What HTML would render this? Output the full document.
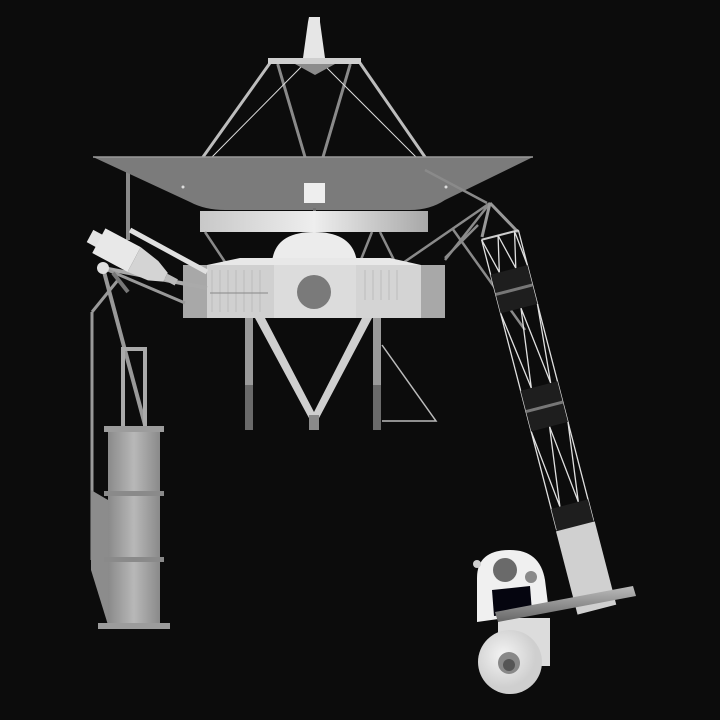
<!DOCTYPE html>
<html><head><style>html,body{margin:0;padding:0;background:#0c0c0c;}svg{display:block}</style></head>
<body>
<svg width="720" height="720" viewBox="0 0 720 720" xmlns="http://www.w3.org/2000/svg">
<defs>
<linearGradient id="bar" x1="0" x2="1"><stop offset="0" stop-color="#c8c8c8"/><stop offset="0.5" stop-color="#eee"/><stop offset="1" stop-color="#a8a8a8"/></linearGradient>
<linearGradient id="cyl" x1="0" x2="1"><stop offset="0" stop-color="#8a8a8a"/><stop offset="0.5" stop-color="#b8b8b8"/><stop offset="1" stop-color="#8a8a8a"/></linearGradient>
<linearGradient id="rod" x1="0" y1="0" x2="0" y2="1"><stop offset="0" stop-color="#bbb"/><stop offset="1" stop-color="#666"/></linearGradient>
<radialGradient id="disk" cx="0.4" cy="0.4"><stop offset="0" stop-color="#f4f4f4"/><stop offset="1" stop-color="#cfcfcf"/></radialGradient>
</defs>
<rect width="720" height="720" fill="#0c0c0c"/>

<!-- feed struts -->
<g stroke-linecap="round">
<line x1="270" y1="63" x2="203" y2="157" stroke="#bdbdbd" stroke-width="3"/>
<line x1="360" y1="63" x2="425" y2="157" stroke="#bdbdbd" stroke-width="3"/>
<line x1="278" y1="65" x2="305" y2="157" stroke="#8a8a8a" stroke-width="3"/>
<line x1="350" y1="65" x2="323" y2="157" stroke="#8a8a8a" stroke-width="3"/>
<line x1="305" y1="63" x2="212" y2="157" stroke="#ddd" stroke-width="1"/>
<line x1="322" y1="63" x2="416" y2="157" stroke="#ddd" stroke-width="1"/>
</g>
<polygon points="309,17 320,17 320,22 325,58 303,58 308,22" fill="#e6e6e6"/>
<rect x="268" y="58" width="93" height="6" fill="#cfcfcf"/>
<polygon points="295,64 335,64 315,75" fill="#8c8c8c"/>

<!-- left vertical strut from dish -->
<rect x="126" y="170" width="4" height="70" fill="#8a8a8a"/>

<!-- dish -->
<path d="M93,157 L533,157 L445,200 Q430,210 410,210 L225,210 Q205,210 190,202 Z" fill="#7b7b7b"/>
<line x1="93" y1="157" x2="533" y2="157" stroke="#9a9a9a" stroke-width="1.5"/>
<rect x="304" y="183" width="21" height="20" fill="#eeeeee"/>
<rect x="313" y="208" width="3" height="57" fill="#6e6e6e"/>
<circle cx="183" cy="187" r="1.5" fill="#ddd"/><circle cx="446" cy="187" r="1.5" fill="#ddd"/>

<!-- bar -->
<rect x="200" y="211" width="228" height="21" fill="url(#bar)"/>
<!-- dome -->
<path d="M272,262 Q275,232 314,232 Q353,232 357,262 Z" fill="#ececec"/>
<!-- struts under bar -->
<g stroke="#8a8a8a" stroke-width="2.5">
<line x1="205" y1="232" x2="225" y2="262"/><line x1="372" y1="232" x2="360" y2="262"/>
<line x1="380" y1="232" x2="395" y2="262"/><line x1="445" y1="258" x2="478" y2="225"/>
<line x1="452" y1="228" x2="525" y2="330"/><line x1="490" y1="203" x2="445" y2="260"/>
<line x1="490" y1="203" x2="400" y2="265"/><line x1="487" y1="203" x2="425" y2="170"/>
</g>
<!-- bus -->
<path d="M207,265 L240,258 L390,258 L421,265 Z" fill="#e8e8e8"/>
<rect x="183" y="265" width="25" height="53" fill="#a8a8a8"/>
<rect x="207" y="265" width="67" height="53" fill="#d0d0d0"/>
<rect x="274" y="265" width="82" height="53" fill="#dcdcdc"/>
<rect x="356" y="265" width="65" height="53" fill="#d4d4d4"/>
<rect x="421" y="265" width="24" height="53" fill="#a8a8a8"/>
<g stroke="#bbb" stroke-width="1"><line x1="212" y1="270" x2="212" y2="312"/><line x1="220" y1="270" x2="220" y2="312"/><line x1="228" y1="270" x2="228" y2="312"/><line x1="236" y1="270" x2="236" y2="312"/><line x1="244" y1="270" x2="244" y2="312"/><line x1="252" y1="270" x2="252" y2="312"/><line x1="260" y1="270" x2="260" y2="312"/><line x1="365" y1="270" x2="365" y2="300"/><line x1="373" y1="270" x2="373" y2="300"/><line x1="381" y1="270" x2="381" y2="300"/><line x1="389" y1="270" x2="389" y2="300"/><line x1="397" y1="270" x2="397" y2="300"/></g>
<line x1="210" y1="293" x2="268" y2="293" stroke="#888" stroke-width="1"/>
<circle cx="314" cy="292" r="17" fill="#7a7a7a"/>

<!-- legs -->
<rect x="245" y="318" width="8" height="112" fill="#9a9a9a"/>
<rect x="373" y="318" width="8" height="112" fill="#9a9a9a"/>
<rect x="245" y="385" width="8" height="45" fill="#6a6a6a"/>
<rect x="373" y="385" width="8" height="45" fill="#6a6a6a"/>
<polygon points="255,318 265,318 314,412 362,318 372,318 318,420 310,420" fill="#cfcfcf"/>
<rect x="309" y="415" width="10" height="15" fill="#8a8a8a"/>
<polyline points="382,345 436,421 382,421" fill="none" stroke="#bbb" stroke-width="1.5"/>

<!-- left instrument -->
<g stroke-linecap="butt">
<line x1="103" y1="268" x2="207" y2="288" stroke="#aaa" stroke-width="4"/>
<line x1="103" y1="268" x2="185" y2="303" stroke="#999" stroke-width="3"/>
<line x1="130" y1="230" x2="207" y2="272" stroke="#e0e0e0" stroke-width="5"/>
<line x1="103" y1="268" x2="145" y2="425" stroke="#999" stroke-width="4"/>
<line x1="118" y1="280" x2="92" y2="312" stroke="#999" stroke-width="3"/>
<line x1="92" y1="312" x2="92" y2="560" stroke="#999" stroke-width="3"/>
<line x1="113" y1="273" x2="128" y2="292" stroke="#777" stroke-width="4"/>
</g>
<g transform="translate(90,236) rotate(28)">
<rect x="0" y="-7" width="12" height="14" fill="#e4e4e4"/>
<rect x="10" y="-14" width="40" height="28" fill="#e8e8e8"/>
<polygon points="50,-14 72,-10 86,-4 86,6 72,12 50,14" fill="#d4d4d4"/>
<rect x="86" y="-3" width="12" height="7" fill="#bbb"/>
</g>
<circle cx="103" cy="268" r="6" fill="#e0e0e0"/>

<!-- RTG -->
<rect x="121" y="347" width="4" height="80" fill="#aaa"/>
<rect x="143" y="347" width="4" height="80" fill="#aaa"/>
<rect x="121" y="347" width="26" height="4" fill="#aaa"/>
<polygon points="91,490 108,500 108,625 91,570" fill="#8c8c8c"/>
<rect x="108" y="428" width="52" height="198" fill="url(#cyl)"/>
<rect x="104" y="426" width="60" height="6" fill="#9c9c9c"/>
<rect x="104" y="491" width="60" height="5" fill="#8a8a8a"/>
<rect x="104" y="557" width="60" height="5" fill="#8a8a8a"/>
<rect x="98" y="623" width="72" height="6" fill="#9c9c9c"/>

<!-- magnetometer boom -->
<line x1="490" y1="203" x2="482" y2="237" stroke="#999" stroke-width="3"/>
<line x1="490" y1="203" x2="518" y2="232" stroke="#999" stroke-width="3"/>
<g transform="translate(500,235) rotate(-14.5)">
<line x1="-19" y1="0" x2="19" y2="0" stroke="#ccc" stroke-width="2"/>
<g stroke="#e0e0e0" stroke-width="1.3" fill="none">
<line x1="-19" y1="0" x2="-19" y2="300"/><line x1="19" y1="0" x2="19" y2="300"/>
<polyline points="-19,0 -10,36 -2,0 7,36 15,0 19,36"/>
<polyline points="-19,76 -8,156 2,76 12,156 19,76"/>
<polyline points="-19,198 -10,278 0,198 9,278 19,198"/>
</g>
<rect x="-19" y="36" width="38" height="40" fill="#1e1e1e"/>
<rect x="-19" y="55" width="38" height="3" fill="#777"/>
<rect x="-19" y="156" width="38" height="42" fill="#1e1e1e"/>
<rect x="-19" y="176" width="38" height="3" fill="#777"/>
<rect x="-19" y="278" width="38" height="23" fill="#1e1e1e"/>
<rect x="-20" y="301" width="40" height="86" fill="#d0d0d0"/>
</g>

<!-- scan platform -->
<path d="M477,622 L477,578 Q477,550 510,550 Q540,550 545,580 L549,612 Z" fill="#f0f0f0"/>
<circle cx="477" cy="564" r="4" fill="#d0d0d0"/>
<circle cx="505" cy="570" r="12" fill="#6a6a6a"/>
<circle cx="531" cy="577" r="6" fill="#8a8a8a"/>
<polygon points="492,590 530,586 532,612 494,616" fill="#05050f"/>
<rect x="498" y="618" width="52" height="48" fill="#dcdcdc"/>
<circle cx="510" cy="662" r="32" fill="url(#disk)"/>
<circle cx="509" cy="663" r="11" fill="#888"/>
<circle cx="509" cy="665" r="6" fill="#555"/>
<polygon points="495,612 633,586 636,596 498,622" fill="url(#rod)"/>
</svg>
</body></html>
